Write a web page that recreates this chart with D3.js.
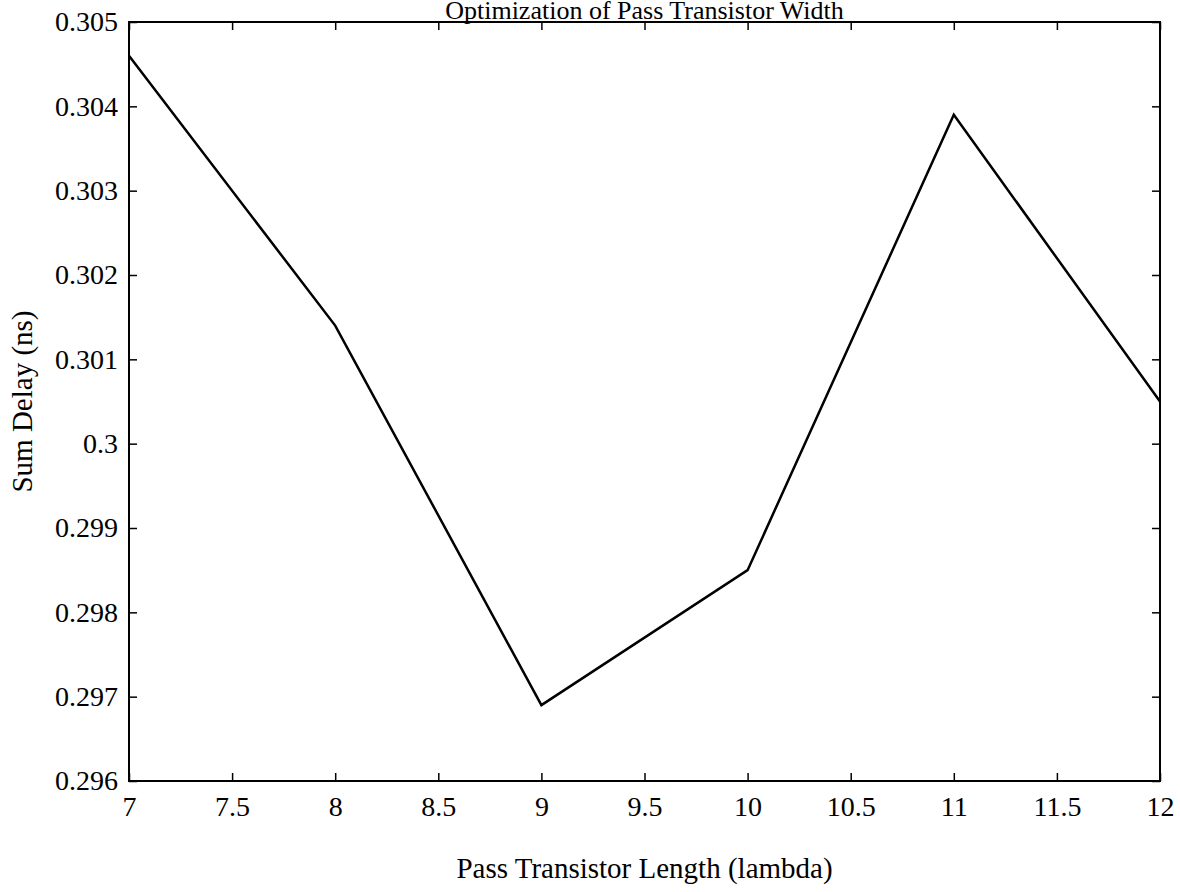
<!DOCTYPE html>
<html>
<head>
<meta charset="utf-8">
<script src="https://cdn.jsdelivr.net/npm/d3@7"></script>
<style>
  html, body { margin: 0; padding: 0; background: #fff; }
  svg { display: block; }
  text { font-family: "Liberation Serif", "Times New Roman", serif; fill: #000; }
</style>
</head>
<body>
<svg id="chart" width="1180" height="892"></svg>
<script>
const title = "Optimization of Pass Transistor Width";
const xLabel = "Pass Transistor Length (lambda)";
const yLabel = "Sum Delay (ns)";
const lengths = [7, 8, 9, 10, 11, 12];
const delays = [0.3046, 0.3014, 0.2969, 0.2985, 0.3039, 0.3005];
const xTicks = [7, 7.5, 8, 8.5, 9, 9.5, 10, 10.5, 11, 11.5, 12];
const yTicks = [0.296, 0.297, 0.298, 0.299, 0.3, 0.301, 0.302, 0.303, 0.304, 0.305];

const svg = d3.select("#chart");
const m = { left: 129, right: 1160, top: 22, bottom: 781 };

const x = d3.scaleLinear().domain([7, 12]).range([m.left, m.right]);
const y = d3.scaleLinear().domain([0.296, 0.305]).range([m.bottom, m.top]);

const fmt = d => String(+d.toFixed(3));
const tickLen = 8;

// frame
svg.append("rect")
  .attr("x", m.left).attr("y", m.top)
  .attr("width", m.right - m.left).attr("height", m.bottom - m.top)
  .attr("fill", "none").attr("stroke", "#000").attr("stroke-width", 2);

// bottom axis
const gx = svg.append("g").attr("transform", `translate(0,${m.bottom})`)
  .call(d3.axisBottom(x).tickValues(xTicks).tickFormat(fmt).tickSize(-tickLen).tickPadding(15));
// top axis
const gxt = svg.append("g").attr("transform", `translate(0,${m.top})`)
  .call(d3.axisTop(x).tickValues(xTicks).tickFormat("").tickSize(-tickLen));
// left axis
const gy = svg.append("g").attr("transform", `translate(${m.left},0)`)
  .call(d3.axisLeft(y).tickValues(yTicks).tickFormat(fmt).tickSize(-tickLen).tickPadding(11));
// right axis
const gyr = svg.append("g").attr("transform", `translate(${m.right},0)`)
  .call(d3.axisRight(y).tickValues(yTicks).tickFormat("").tickSize(-tickLen));

[gx, gxt, gy, gyr].forEach(g => {
  g.select(".domain").remove();
  g.selectAll(".tick line").attr("stroke", "#000").attr("stroke-width", 1.5);
  g.selectAll("text").style("font-family", '"Liberation Serif", serif').style("font-size", "28px").attr("fill", "#000");
});

// line
const line = d3.line().x((d, i) => x(lengths[i])).y(d => y(d));
svg.append("path").datum(delays)
  .attr("d", line)
  .attr("fill", "none").attr("stroke", "#000").attr("stroke-width", 2.5)
  .attr("stroke-linejoin", "miter");

// title
svg.append("text").attr("x", (m.left + m.right) / 2).attr("y", 19)
  .attr("text-anchor", "middle").style("font-size", "26px")
  .text(title);

// x label
svg.append("text").attr("x", (m.left + m.right) / 2).attr("y", 878)
  .attr("text-anchor", "middle").style("font-size", "29px")
  .text(xLabel);

// y label
svg.append("text")
  .attr("transform", `translate(32,${(m.top + m.bottom) / 2}) rotate(-90)`)
  .attr("text-anchor", "middle").style("font-size", "29px")
  .text(yLabel);
</script>
</body>
</html>
